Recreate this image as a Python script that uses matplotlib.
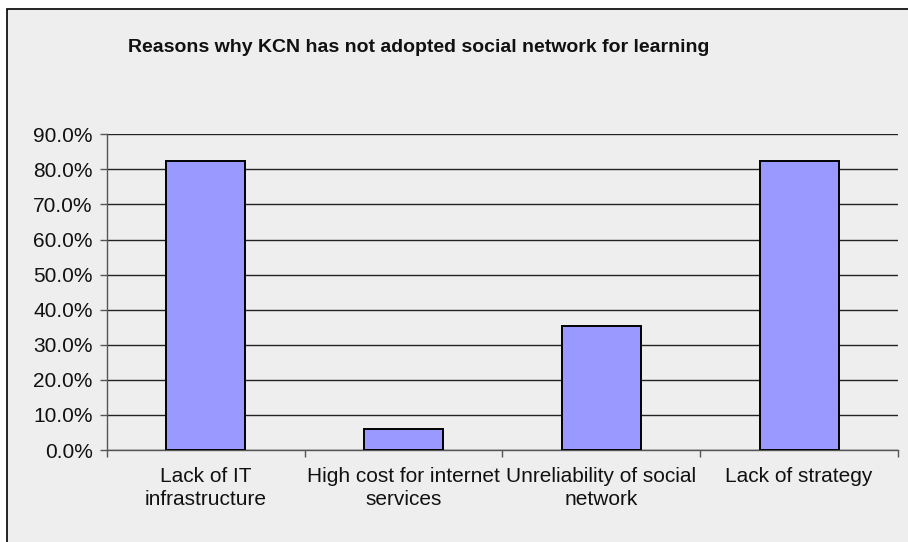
import matplotlib.pyplot as plt
from matplotlib.patches import Rectangle
from matplotlib.ticker import FuncFormatter, MultipleLocator

plt.rcParams['font.family'] = ['Liberation Sans', 'DejaVu Sans']

categories = ['Lack of IT\ninfrastructure', 'High cost for internet\nservices',
              'Unreliability of social\nnetwork', 'Lack of strategy']
shares = [82.4, 5.9, 35.3, 82.4]
title = 'Reasons why KCN has not adopted social network for learning'

W, H = 908, 542
fig = plt.figure(figsize=(W / 100, H / 100), dpi=100, facecolor='white')

# grey chart area with black frame (open to the right and bottom)
fig.patches.append(Rectangle((7 / W, -0.01), 1.0, 1 - 9 / H + 0.01,
                             transform=fig.transFigure, facecolor='#eeeeee',
                             edgecolor='black', linewidth=1.2, zorder=-5))

ax = fig.add_axes([106.7 / W, 1 - 450 / H, (898 - 106.7) / W, (450 - 134.3) / H])
ax.set_facecolor('none')
ax.set_zorder(2)

x = range(len(categories))
ax.bar(x, shares, width=0.4, color='#9999ff', edgecolor='black', linewidth=1.4, zorder=3)

ax.set_xlim(-0.5, len(categories) - 0.5)
ax.set_ylim(0, 90)
ax.yaxis.set_major_locator(MultipleLocator(10))
ax.yaxis.set_major_formatter(FuncFormatter(lambda v, _: f'{v:.1f}%'))
ax.grid(axis='y', color='#222222', linewidth=1.0, zorder=1)
ax.set_axisbelow(True)

# category ticks sit between the bars, labels centred under them
ax.set_xticks([i - 0.5 for i in range(len(categories) + 1)])
ax.set_xticklabels([])
ax.set_xticks(list(x), minor=True)
ax.set_xticklabels(categories, minor=True, fontsize=15, color='#111111',
                   linespacing=1.3)
ax.tick_params(axis='x', which='minor', length=0, pad=12)
ax.tick_params(axis='x', which='major', length=5, color='#555555', width=1)
ax.tick_params(axis='y', length=5, color='#555555', width=1, labelsize=15,
               labelcolor='#111111', pad=5)

for side in ['top', 'right']:
    ax.spines[side].set_visible(False)
for side in ['left', 'bottom']:
    ax.spines[side].set_color('#555555')
    ax.spines[side].set_linewidth(1)

fig.text(418.5 / W, 1 - 47 / H, title, ha='center', va='center',
         fontsize=14, fontweight='bold', color='#111111')

fig.savefig('out.png', dpi=100, facecolor='white')
